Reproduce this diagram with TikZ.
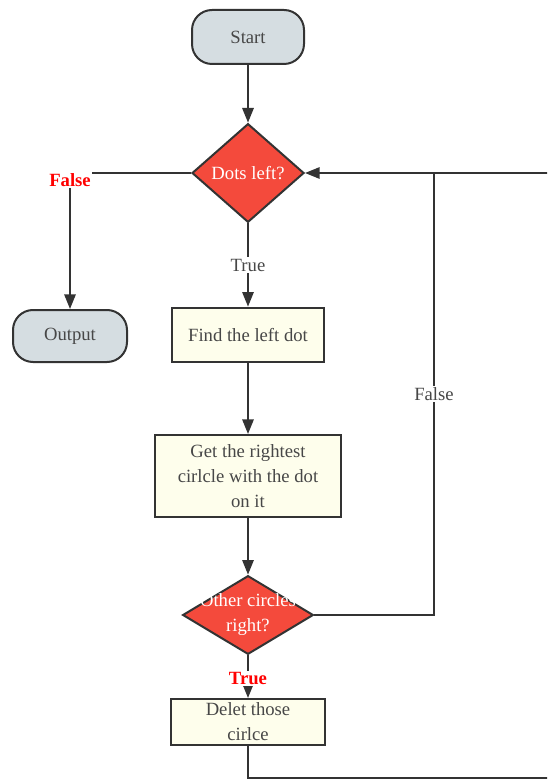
\documentclass[tikz,border=0pt]{standalone}
\usepackage{fontspec}
\setmainfont{Liberation Serif}
\usetikzlibrary{shapes.geometric,arrows.meta}
\usepackage{xcolor}
\definecolor{lineclr}{HTML}{333333}
\definecolor{txtclr}{HTML}{474747}
\definecolor{termfill}{HTML}{D5DDE1}
\definecolor{procfill}{HTML}{FEFEEC}
\definecolor{decfill}{HTML}{F44A3C}

\begin{document}
\begin{tikzpicture}[
    x=0.75pt, y=-0.75pt,
    every node/.style={font=\fontsize{14}{18.75}\selectfont, text=txtclr},
    terminal/.style={draw=lineclr, line width=1.5pt, fill=termfill, rectangle, rounded corners=15pt, align=center},
    process/.style={draw=lineclr, line width=1.5pt, fill=procfill, rectangle, align=center, inner ysep=0pt},
    decision/.style={draw=lineclr, line width=1.5pt, fill=decfill, diamond, inner sep=0pt},
    dtext/.style={text=white, align=center, inner sep=0pt},
    flow/.style={draw=lineclr, line width=1.5pt, -{Triangle[length=11pt, width=8.5pt]}},
    link/.style={draw=lineclr, line width=1.5pt},
    lbl/.style={fill=white, inner sep=1pt},
    hot/.style={fill=white, inner sep=1pt, text=red, font=\fontsize{14}{18.75}\selectfont\bfseries},
]
\clip (0,0) rectangle (547,780);

% --- nodes ---
\node[terminal, minimum width=84pt, minimum height=40.5pt] (start) at (248,37) {Start};
\node[decision, minimum width=84pt, minimum height=74pt, label={[dtext]center:Dots left?}] (dots) at (248,173) {};
\node[terminal, minimum width=85.5pt, minimum height=39pt] (output) at (70,336) {Output};
\node[process, minimum width=114pt, minimum height=41pt] (find) at (248,335) {Find the left dot};
\node[process, minimum width=139pt, minimum height=61.5pt] (rightest) at (248,476) {Get the rightest\\cirlcle with the dot\\on it};
\node[decision, minimum width=98pt, minimum height=59pt, label={[dtext]center:{Other circles\\right?}}] (others) at (248,615) {};
\node[process, minimum width=115pt, minimum height=34.5pt] (delet) at (248,722) {Delet those\\cirlce};

\coordinate (join) at (434,173);
\coordinate (loopb) at (565,778);
\coordinate (loopt) at (565,173);

% --- connectors ---
\draw[flow] (start) -- (dots.north);
\draw[flow] (dots.west) -| (output.north) node[hot, pos=0.5, yshift=-5pt] {False};
\draw[flow] (dots.south) -- (find.north) node[lbl, midway] {True};
\draw[flow] (find) -- (rightest);
\draw[flow] (rightest) -- (others.north);
\draw[flow] (others.south) -- (delet.north) node[hot, pos=0.55] {True};
\draw[link] (others.east) -| (join) node[lbl, pos=0.75] {False};
\draw[flow] (delet.south) |- (loopb) -- (loopt) -- (dots.east);
\end{tikzpicture}
\end{document}
